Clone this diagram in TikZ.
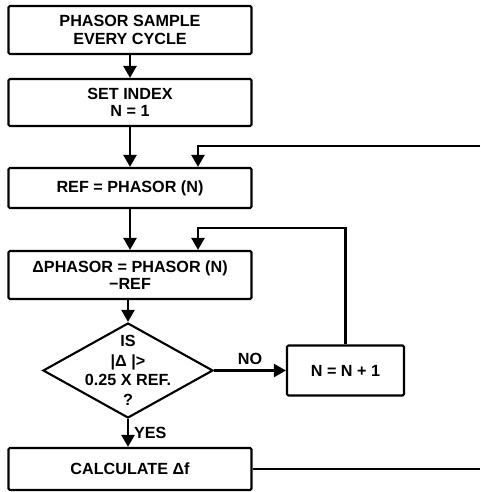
\documentclass[tikz,border=0pt]{standalone}
\usepackage{fontspec}
\setmainfont{Liberation Sans}
\usepackage{tikz}
\usetikzlibrary{arrows.meta, positioning, shapes.geometric, calc}

\begin{document}
\begin{tikzpicture}[
    % Define styles
    stepbox/.style={rectangle, draw=black, line width=1.5pt, fill=white, minimum width=6.075cm, align=center, font=\fontsize{11.5}{12.5}\selectfont\bfseries, rounded corners=1pt},
    testbox/.style={diamond, draw=black, line width=1.5pt, minimum width=4.25cm, minimum height=2.375cm, inner sep=0pt},
    flowlabel/.style={font=\fontsize{11.5}{12.5}\selectfont\bfseries},
    arrow/.style={-{Triangle[length=0.3cm, width=0.32cm]}, line width=2pt, draw=black},
    line/.style={line width=2pt, draw=black}
]
    \useasboundingbox (0,0) rectangle (12,-12.3);

    % 1. Main column of steps
    \node[stepbox, minimum height=1.2cm] (sample) at (3.25, -0.75) {PHASOR SAMPLE\\EVERY CYCLE};
    \node[stepbox, minimum height=1.175cm] (setidx) at (3.25, -2.5625) {SET INDEX\\N = 1};
    \node[stepbox, minimum height=1cm] (ref) at (3.25, -4.7) {REF = PHASOR (N)};
    \node[stepbox, minimum height=1.2cm] (dphasor) at (3.25, -6.875) {ΔPHASOR = PHASOR (N)\\ −REF};

    % 2. The decision
    \node[testbox] (test) at (3.2, -9.2625) {};
    \node[flowlabel, align=center, font=\fontsize{11.5}{14}\selectfont\bfseries] (testtext) at (test.center) {IS\\|Δ |>\\0.25 X REF.\\?};

    % 3. Increment and final step
    \node[stepbox, minimum width=2.925cm, minimum height=1.25cm] (incr) at (8.6375, -9.2625) {N = N + 1};
    \node[stepbox, minimum height=1.05cm] (calc) at (3.25, -11.725) {CALCULATE Δf};

    % Loop points
    \coordinate (outer) at (12, -3.65);
    \coordinate (outerin) at (4.95, -3.65);
    \coordinate (innerin) at (4.95, -5.7);

    % 4. Connections (Arrows)
    \draw[arrow] (sample.south) -- (setidx.north);
    \draw[arrow] (setidx.south) -- (setidx.south |- ref.north);
    \draw[arrow] (ref.south) -- (ref.south |- dphasor.north);
    \draw[arrow] (dphasor.south -| test.north) -- (test.north);
    \draw[arrow] (test.east) -- (incr.west) node[flowlabel, midway, above] {NO};
    \draw[arrow] (test.south) -- (test.south |- calc.north) node[flowlabel, midway, right] {YES};

    % Return paths
    \draw[arrow] (incr.north) |- (innerin) -- (innerin |- dphasor.north);
    \draw[arrow] (outer) -- (outerin) -- (outerin |- ref.north);
    \draw[line] (calc.east) -- (calc.east -| outer);

\end{tikzpicture}
\end{document}
